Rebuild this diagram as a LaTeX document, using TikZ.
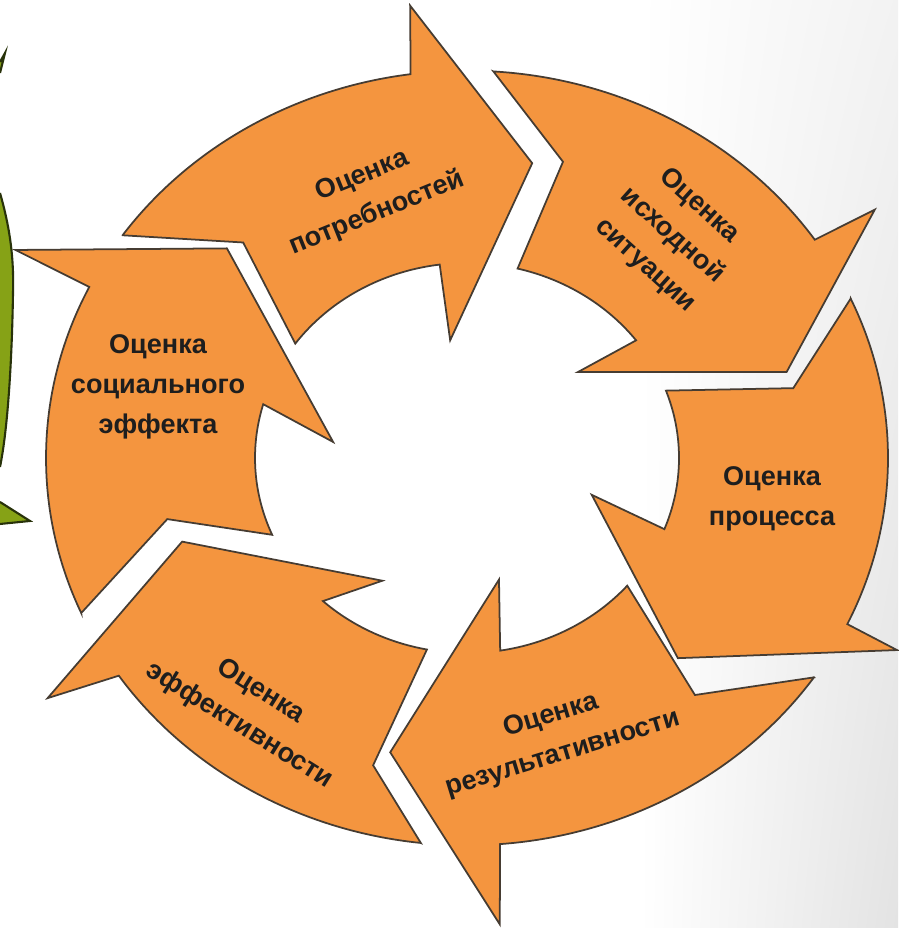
\documentclass[tikz,border=0pt]{standalone}
\usepackage{fontspec}
\setmainfont{Liberation Sans}
\usetikzlibrary{shadings}
\definecolor{ArrowFill}{RGB}{244,149,63}
\definecolor{ArrowLine}{RGB}{70,60,50}
\definecolor{LabelText}{RGB}{30,30,30}
\definecolor{LeafFill}{RGB}{134,162,22}
\definecolor{LeafLine}{RGB}{40,50,10}
\tikzset{
  ringarrow/.style={fill=ArrowFill, draw=ArrowLine, line width=0.5pt, line join=miter},
  leaf/.style={fill=LeafFill, draw=LeafLine, line width=0.6pt},
  steplabel/.style={text=LabelText, align=center, font=\bfseries\fontsize{7.7}{11.4}\selectfont, inner sep=0pt}
}

\begin{document}
\begin{tikzpicture}

    \useasboundingbox (0,0) rectangle (8.98,9.28);
    \shade [upper left=white, lower left=white, upper right=white!95!black, lower right=white!89!black] (6.4,0) rectangle (8.98,9.28);

    % green piece cut by the left border
    \draw [leaf] (0,7.35) .. controls (0.10,7.0) and (0.14,6.7) .. (0.13,6.35)
        .. controls (0.12,5.7) and (0.08,5.0) .. (0,4.61);
    \draw [leaf] (0,4.26) -- (0.30,4.07) -- (0,4.04);
    \draw [leaf] (0,8.55) -- (0.05,8.75) -- (0,8.66);

    \coordinate (O) at (4.67,4.70);
    \def\Ri{2.12}
    \def\Ro{4.21}

    \begin{scope}[shift={(O)}, yscale=0.92]
        \foreach \aT/\aN/\rN/\aI/\aH/\aB/\rB/\aP/\rP/\aQ/\rQ/\aO in {
            144.9/133.7/3.24/144.1/97.4/97.5/1.29/78.5/3.27/96.6/4.95/97.7,
            86.4/73.4/3.36/76.2/37.1/40.1/1.45/16.3/3.33/33.5/4.89/34.3,
            24.3/13.1/3.35/20.2/-21.4/-17.8/1.31/-45.9/3.03/-25.9/4.78/-25.4,
            -34.5/-48.5/3.44/-40.9/-81/-76.4/1.36/-103.5/3.29/-86.3/5.08/-85.5,
            -96.3/-105.7/3.47/-100.9/-132.8/-122.4/1.58/-162.3/2.99/-148.1/4.94/-145.8,
            203.6/192.5/3.07/203.2/164/172.6/1.35/136.5/3.31/153.4/5.05/153.8}
        {
            \draw [ringarrow] (\aT:\Ro) -- (\aN:\rN) -- (\aI:\Ri)
                arc [start angle=\aI, end angle=\aH, radius=\Ri]
                -- (\aB:\rB) -- (\aP:\rP) -- (\aQ:\rQ) -- (\aO:\Ro)
                arc [start angle=\aO, end angle=\aT, radius=\Ro] -- cycle;
        }
    \end{scope}

    \node [steplabel, rotate=22] (potr) at (3.70,7.33) {Оценка\\потребностей};
    \node [steplabel, rotate=-42] (ishod) at (6.72,6.92) {Оценка\\исходной\\ситуации};
    \node [steplabel] (proc) at (7.72,4.29) {Оценка\\процесса};
    \node [steplabel, rotate=17] (rezult) at (5.57,1.93) {Оценка\\результативности};
    \node [steplabel, rotate=-32] (effekt) at (2.50,2.19) {Оценка\\эффективности};
    \node [steplabel] (social) at (1.58,5.41) {Оценка\\социального\\эффекта};

\end{tikzpicture}
\end{document}
